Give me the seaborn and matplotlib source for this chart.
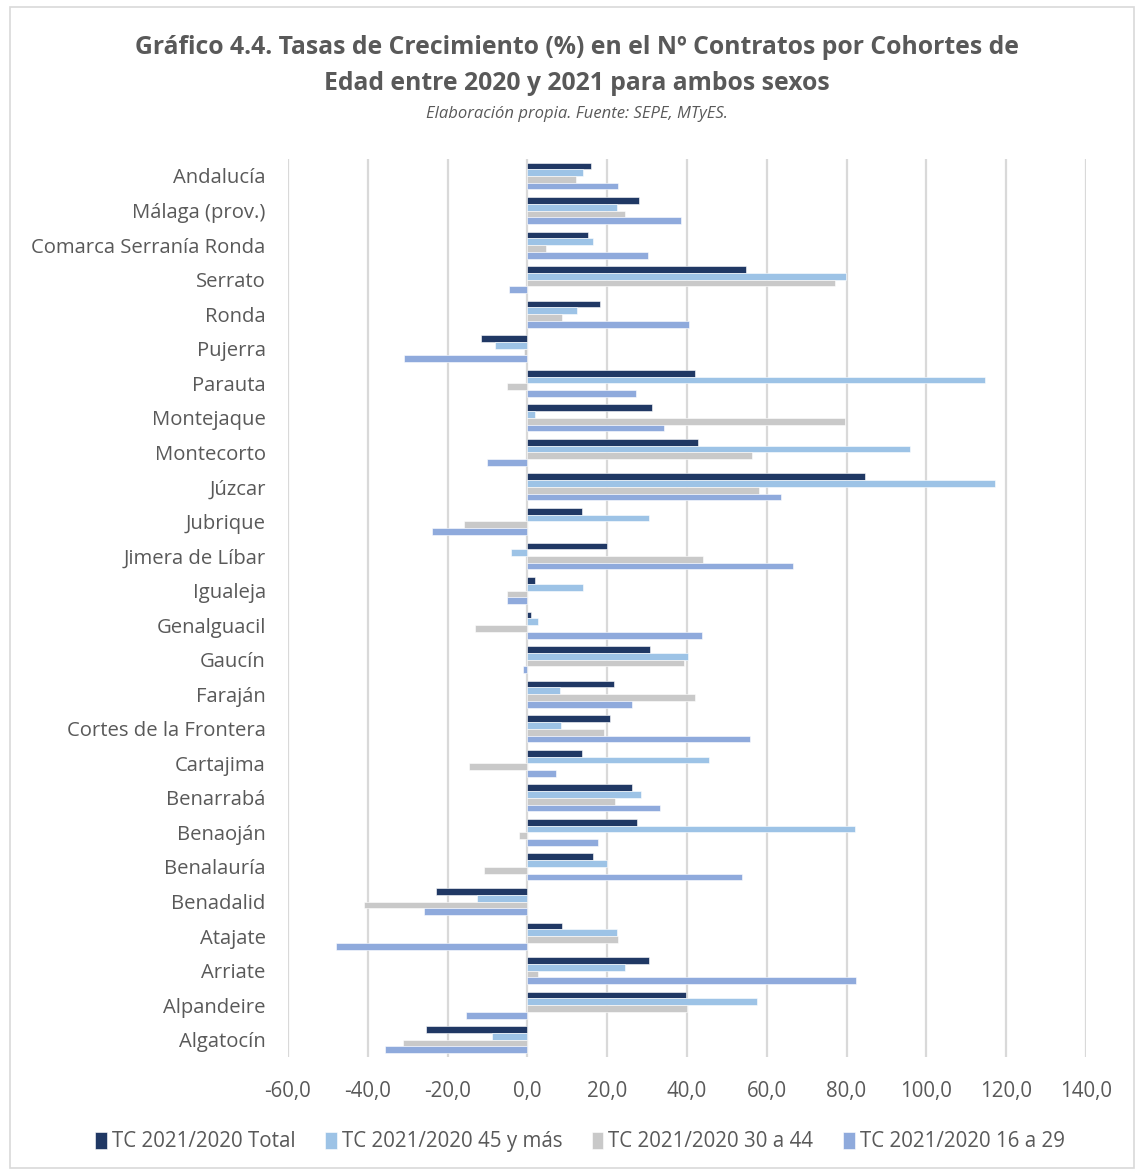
import pandas as pd
import seaborn as sns
import matplotlib.pyplot as plt
from matplotlib.ticker import FuncFormatter, MultipleLocator
from matplotlib.patches import Rectangle

zonas = ["Andalucía", "Málaga (prov.)", "Comarca Serranía Ronda", "Serrato", "Ronda",
         "Pujerra", "Parauta", "Montejaque", "Montecorto", "Júzcar", "Jubrique",
         "Jimera de Líbar", "Igualeja", "Genalguacil", "Gaucín", "Faraján",
         "Cortes de la Frontera", "Cartajima", "Benarrabá", "Benaoján", "Benalauría",
         "Benadalid", "Atajate", "Arriate", "Alpandeire", "Algatocín"]

tc_total = [15.9, 28.1, 15.2, 54.7, 18.3, -11.6, 42.0, 31.2, 42.8, 84.5, 13.8,
            20.0, 1.9, 0.9, 30.8, 21.7, 20.7, 13.7, 26.3, 27.4, 16.5,
            -22.8, 8.6, 30.4, 39.7, -25.4]
tc_45 = [13.9, 22.4, 16.5, 79.9, 12.4, -8.2, 114.6, 1.8, 95.9, 117.2, 30.4,
         -4.2, 13.9, 2.6, 40.2, 8.1, 8.5, 45.4, 28.4, 82.0, 20.0,
         -12.7, 22.4, 24.5, 57.5, -8.9]
tc_30 = [12.3, 24.5, 4.7, 77.2, 8.8, -0.9, -5.2, 79.7, 56.2, 58.0, -15.9,
         44.0, -5.1, -13.0, 39.3, 42.0, 19.3, -14.5, 22.0, -2.2, -10.8,
         -40.9, 22.6, 2.7, 40.0, -31.2]
tc_16 = [22.7, 38.4, 30.2, -4.6, 40.4, -31.0, 27.3, 34.2, -10.2, 63.5, -23.8,
         66.5, -5.1, 43.8, -1.2, 26.2, 55.8, 7.1, 33.3, 17.8, 53.8,
         -25.8, -48.0, 82.3, -15.4, -35.7]

series = ["TC 2021/2020 Total", "TC 2021/2020 45 y más",
          "TC 2021/2020 30 a 44", "TC 2021/2020 16 a 29"]
colores = ["#203864", "#9DC3E6", "#C9C9C9", "#8FAADC"]

df = pd.DataFrame({"zona": zonas, series[0]: tc_total, series[1]: tc_45,
                   series[2]: tc_30, series[3]: tc_16})
df = df.melt(id_vars="zona", var_name="serie", value_name="tc")

sns.set_theme(style="white")
plt.rcParams["font.family"] = ["Open Sans", "DejaVu Sans"]
gris = "#595959"

fig = plt.figure(figsize=(11.35, 11.73), dpi=100)
ax = fig.add_axes([0.2537, 0.0989, 0.7031, 0.7658])

sns.barplot(data=df, y="zona", x="tc", hue="serie", order=zonas, hue_order=series,
            palette=colores, orient="h", width=0.78, ax=ax, saturation=1,
            edgecolor="white", linewidth=0.4, legend=True)

ax.set_xlim(-60, 140)
ax.xaxis.set_major_locator(MultipleLocator(20))
ax.xaxis.set_major_formatter(FuncFormatter(lambda v, p: f"{v:.1f}".replace(".", ",")))
ax.grid(axis="x", color="#D9D9D9", linewidth=1.6)
ax.set_axisbelow(True)
for s in ax.spines.values():
    s.set_visible(False)
ax.set_xlabel("")
ax.set_ylabel("")
ax.tick_params(axis="x", labelsize=14.8, colors=gris, pad=17, length=0)
ax.tick_params(axis="y", labelsize=14.6, colors=gris, pad=16, length=0)

ax.legend(loc="center", bbox_to_anchor=(0.366, -0.0945), ncol=4, frameon=False,
          fontsize=14.8, labelcolor=gris, handlelength=0.55, handleheight=0.9,
          handletextpad=0.25, columnspacing=1.45)

fig.text(0.508, 0.97, "Gráfico 4.4. Tasas de Crecimiento (%) en el Nº Contratos por Cohortes de\n"
         "Edad entre 2020 y 2021 para ambos sexos", ha="center", va="top",
         fontsize=17.8, fontweight="bold", color=gris, linespacing=1.55)
fig.text(0.508, 0.903, "Elaboración propia. Fuente: SEPE, MTyES.", ha="center", va="center",
         fontsize=12, style="italic", color=gris)

fig.patches.append(Rectangle((0.009, 0.004), 0.99, 0.99, transform=fig.transFigure,
                             fill=False, edgecolor="#D9D9D9", linewidth=1.2))

fig.savefig("out.png", dpi=100)
